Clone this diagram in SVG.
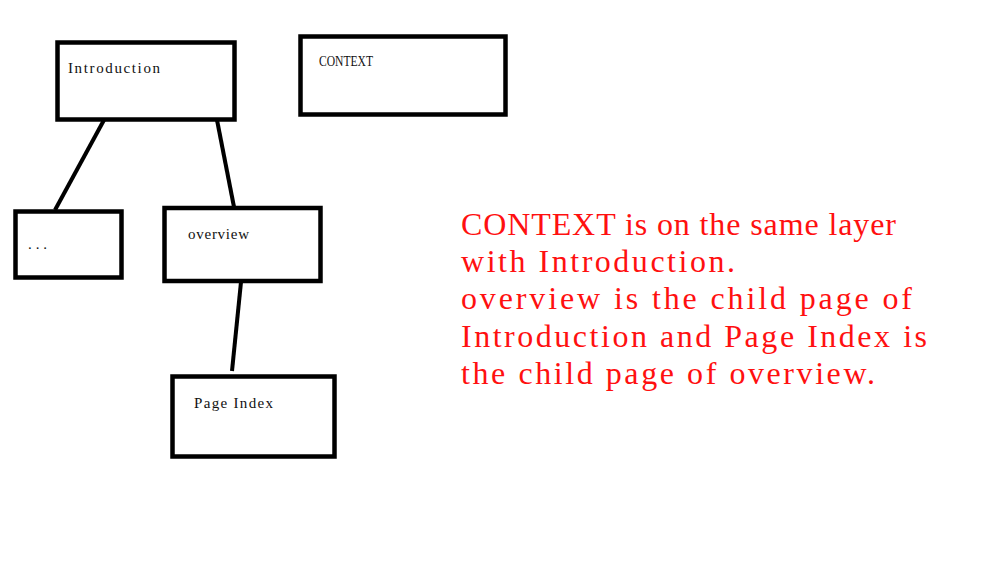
<svg xmlns="http://www.w3.org/2000/svg" width="999" height="562" viewBox="0 0 999 562">
<style>
.box{fill:#fff;stroke:#000;stroke-width:4.5}
.lbl{font-family:"Liberation Serif","DejaVu Serif",serif;font-size:15px;fill:#111}
.link{stroke:#000;stroke-width:4;stroke-linecap:butt;fill:none}
.note{font-family:"Liberation Serif","DejaVu Serif",serif;font-size:32px;fill:#ff1010}
</style>
<rect width="999" height="562" fill="#fff"/>
<g id="connectors">
<line class="link" x1="104" y1="120" x2="55" y2="210"/>
<line class="link" x1="217" y1="120" x2="234" y2="207"/>
<line class="link" x1="241" y1="282" x2="232" y2="371"/>
</g>
<g id="node-introduction">
<rect class="box" x="57.5" y="42.5" width="177" height="77"/>
<text class="lbl" x="68" y="73" textLength="92" lengthAdjust="spacing">Introduction</text>
</g>
<g id="node-context">
<rect class="box" x="300.5" y="36.5" width="205" height="78"/>
<text class="lbl" x="319" y="66" textLength="54" lengthAdjust="spacingAndGlyphs">CONTEXT</text>
</g>
<g id="node-ellipsis">
<rect class="box" x="15.5" y="211.5" width="106" height="66"/>
<text class="lbl" x="28" y="249" textLength="19" lengthAdjust="spacing">...</text>
</g>
<g id="node-overview">
<rect class="box" x="164.5" y="208" width="156" height="73"/>
<text class="lbl" x="188" y="239" textLength="61" lengthAdjust="spacing">overview</text>
</g>
<g id="node-pageindex">
<rect class="box" x="172.5" y="376.5" width="162" height="80"/>
<text class="lbl" x="194" y="408" textLength="79" lengthAdjust="spacing">Page Index</text>
</g>
<g id="note">
<text class="note" x="461" y="235" textLength="435" lengthAdjust="spacing">CONTEXT is on the same layer</text>
<text class="note" x="461" y="272" textLength="274" lengthAdjust="spacing">with Introduction.</text>
<text class="note" x="461" y="309" textLength="451" lengthAdjust="spacing">overview is the child page of</text>
<text class="note" x="461" y="347" textLength="466" lengthAdjust="spacing">Introduction and Page Index is</text>
<text class="note" x="461" y="384" textLength="414" lengthAdjust="spacing">the child page of overview.</text>
</g>
</svg>
